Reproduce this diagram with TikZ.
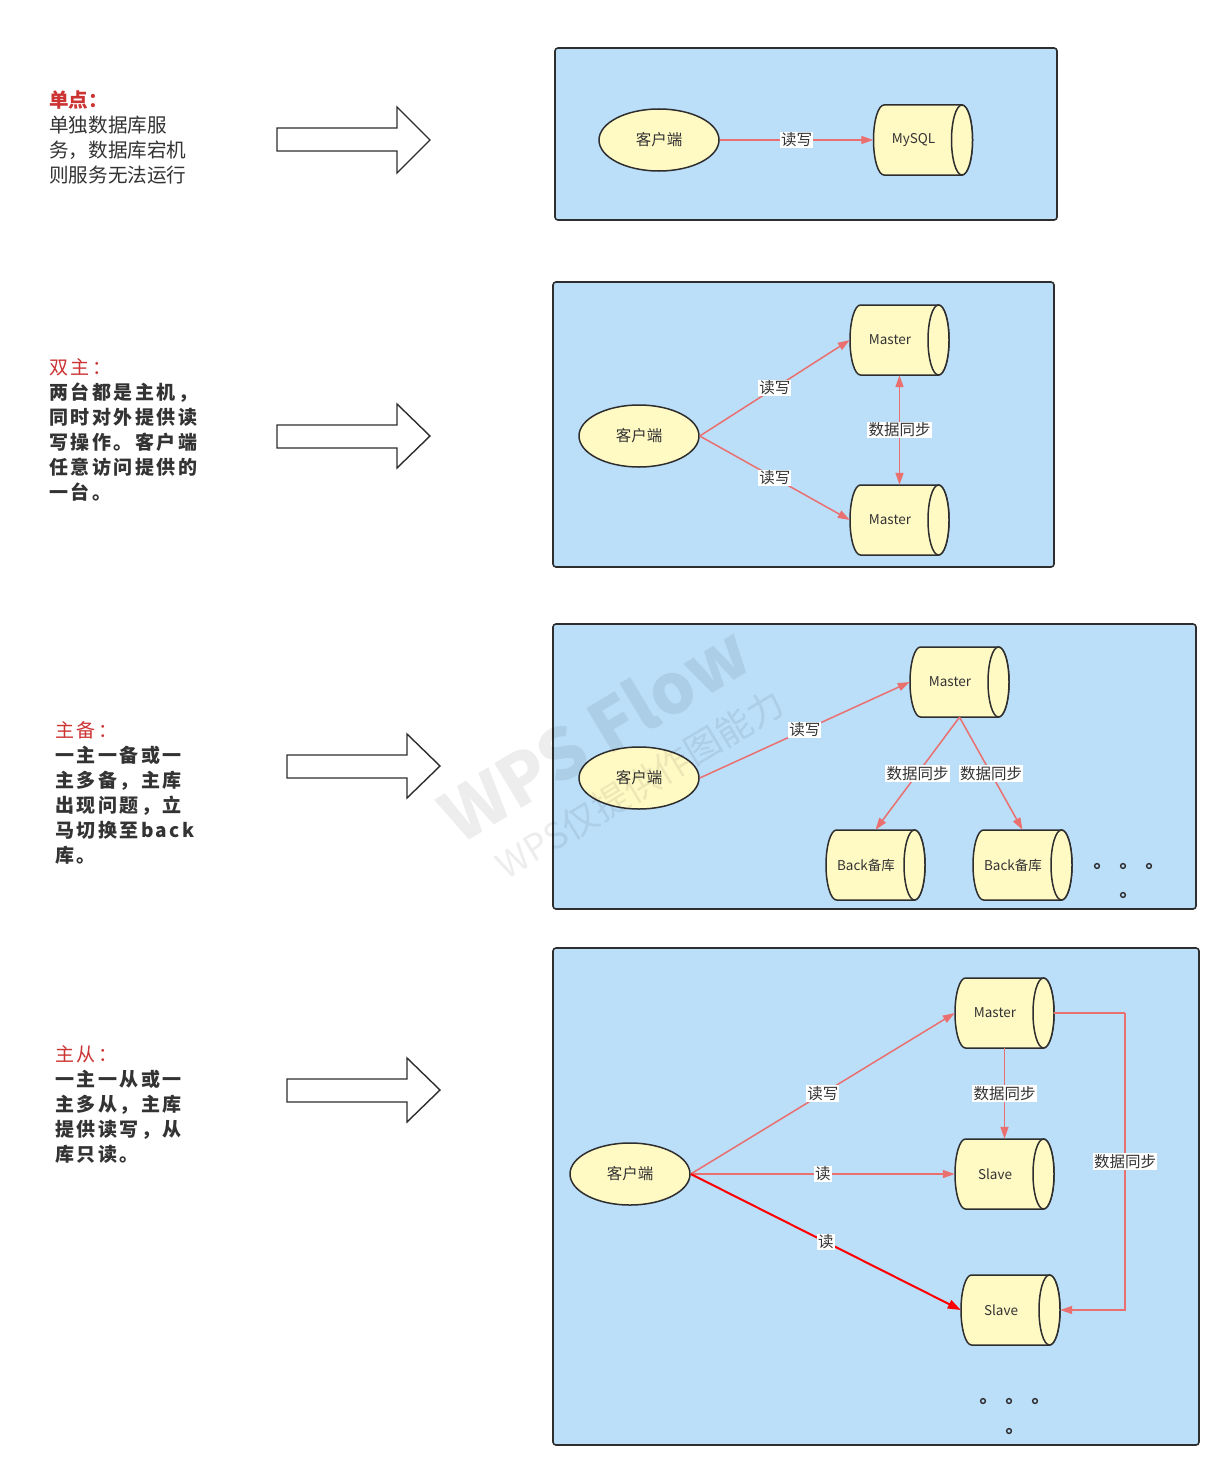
\documentclass[tikz,border=0pt]{standalone}
\usepackage{fontspec}
\setmainfont{Noto Sans CJK SC}
\usetikzlibrary{arrows.meta,shapes.geometric}
\definecolor{panelfill}{HTML}{BBDEF9}
\definecolor{nodefill}{HTML}{FFF9C4}
\definecolor{edgec}{HTML}{EA7070}
\definecolor{titlered}{HTML}{CC3333}
\definecolor{textc}{HTML}{333333}
\definecolor{linec}{HTML}{2E2E2E}
\tikzset{
  panel/.style={draw=linec,line width=1.6pt,fill=panelfill,rounded corners=3pt},
  bigarrow/.style={draw=linec,line width=1.4pt,fill=white},
  client/.style={ellipse,draw=linec,line width=1.5pt,fill=nodefill,minimum width=120pt,minimum height=62pt,inner sep=0pt,font=\fontsize{15.5}{15.5}\selectfont,text=textc},
  cylshape/.style={draw=linec,line width=1.5pt,fill=nodefill},
  cylnode/.style={rectangle,minimum width=99pt,minimum height=70pt,inner sep=0pt,font=\fontsize{13.5}{14}\selectfont,text=textc},
  edge/.style={draw=edgec,line width=1.5pt,-{Triangle[length=12pt,width=8pt]}},
  edgeboth/.style={draw=edgec,line width=1.5pt,{Triangle[length=12pt,width=8pt]}-{Triangle[length=12pt,width=8pt]}},
  edgeplain/.style={draw=edgec,line width=1.5pt},
  edgered/.style={draw=red,line width=2pt,-{Triangle[length=13pt,width=9pt]}},
  lab/.style={fill=white,inner sep=1.2pt,font=\fontsize{15.5}{16}\selectfont,text=textc},
  desc/.style={anchor=north west,align=left,inner sep=0pt,text=textc},
  dot/.style={draw=linec,line width=1.4pt},
  wm/.style={text=black,opacity=0.07,rotate=31}
}
\newcommand{\cyl}[4]{%
  \begin{scope}[shift={(#2,#3)}]
    \path[cylshape] (-39,-35) -- (39,-35)
      arc[start angle=-90,end angle=90,x radius=10.5,y radius=35]
      -- (-39,35)
      arc[start angle=90,end angle=270,x radius=10.5,y radius=35] -- cycle;
    \path[cylshape] (39,0) ellipse[x radius=10.5,y radius=35];
    \node[cylnode] (#1) at (0,0) {#4\hspace*{19pt}};
  \end{scope}}
\begin{document}
\begin{tikzpicture}[x=1pt,y=-1pt]
\useasboundingbox (0,0) rectangle (1230,1477);
\fill[white] (0,0) rectangle (1230,1477);

% ---------- left descriptions ----------
\node[desc,font=\fontsize{19.6}{25}\selectfont] (t1) at (49,91)
  {\textcolor{titlered}{\bfseries 单点：}\\单独数据库服\\务，数据库宕机\\则服务无法运行};
\node[desc,font=\fontsize{19}{25}\selectfont\addfontfeature{LetterSpace=13}] (t2) at (49,358)
  {\textcolor{titlered}{双主：}\\\bfseries 两台都是主机，\\\bfseries 同时对外提供读\\\bfseries 写操作。客户端\\\bfseries 任意访问提供的\\\bfseries 一台。};
\node[desc,font=\fontsize{19}{25}\selectfont\addfontfeature{LetterSpace=13}] (t3) at (55,721)
  {\textcolor{titlered}{主备：}\\\bfseries 一主一备或一\\\bfseries 主多备，主库\\\bfseries 出现问题，立\\\bfseries 马切换至back\\\bfseries 库。};
\node[desc,font=\fontsize{19}{25}\selectfont\addfontfeature{LetterSpace=13}] (t4) at (55,1045)
  {\textcolor{titlered}{主从：}\\\bfseries 一主一从或一\\\bfseries 主多从，主库\\\bfseries 提供读写，从\\\bfseries 库只读。};

% ---------- big arrows ----------
\path[bigarrow] (277,128) -- (397,128) -- (397,107) -- (430,140) -- (397,173) -- (397,151) -- (277,151) -- cycle;
\path[bigarrow] (277,425) -- (397,425) -- (397,404) -- (430,436) -- (397,468) -- (397,448) -- (277,448) -- cycle;
\path[bigarrow] (287,755) -- (407,755) -- (407,734) -- (440,766) -- (407,798) -- (407,778) -- (287,778) -- cycle;
\path[bigarrow] (287,1079) -- (407,1079) -- (407,1058) -- (440,1090) -- (407,1122) -- (407,1102) -- (287,1102) -- cycle;

% ---------- panels ----------
\path[panel] (555,48) rectangle (1057,220);
\path[panel] (553,282) rectangle (1054,567);
\path[panel] (553,624) rectangle (1196,909);
\path[panel] (553,948) rectangle (1199,1445);

% ---------- panel 1 ----------
\node[client] (c1) at (659,140) {客户端};
\cyl{mysql}{923}{140}{MySQL}
\draw[edge] (c1.east) -- node[lab]{读写} (mysql.west);

% ---------- panel 2 ----------
\node[client] (c2) at (639,436) {客户端};
\cyl{m2a}{899.5}{340}{Master}
\cyl{m2b}{899.5}{520}{Master}
\draw[edge] (c2.east) -- node[lab]{读写} (m2a.west);
\draw[edge] (c2.east) -- node[lab]{读写} (m2b.west);
\draw[edgeboth] (m2a.south) -- node[lab]{数据同步} (m2b.north);

% ---------- panel 3 ----------
\node[client] (c3) at (639,778) {客户端};
\cyl{m3}{959.5}{682}{Master}
\cyl{b3a}{875.5}{865}{Back备库}
\cyl{b3b}{1022.5}{865}{Back备库}
\draw[edge] (c3.east) -- node[lab]{读写} (m3.west);
\draw[edge] (m3.south) -- node[lab]{数据同步} (b3a.north);
\draw[edge] (m3.south) -- node[lab]{数据同步} (b3b.north);
\foreach \px/\py in {1097/866,1123/866,1149/866,1123/895}
  \draw[dot] (\px,\py) circle[radius=2.4];

% ---------- panel 4 ----------
\node[client] (c4) at (630,1174) {客户端};
\cyl{m4}{1004.5}{1013}{Master}
\cyl{s4a}{1004.5}{1174}{Slave}
\cyl{s4b}{1010.5}{1310}{Slave}
\coordinate (k4) at (1125,1013);
\draw[edge] (c4.east) -- node[lab]{读写} (m4.west);
\draw[edge] (c4.east) -- node[lab]{读} (s4a.west);
\draw[edgered] (c4.east) -- node[lab]{读} (s4b.west);
\draw[edge] (m4.south) -- node[lab]{数据同步} (s4a.north);
\draw[edgeplain] (m4.east) -- (k4);
\draw[edge] (k4) |- node[lab,pos=0.25]{数据同步} (s4b.east);
\foreach \px/\py in {983/1401,1009/1401,1035/1401,1009/1431}
  \draw[dot] (\px,\py) circle[radius=2.4];

% ---------- watermark ----------
\node[wm,font=\fontsize{70}{70}\selectfont\bfseries] (wm1) at (594,733) {WPS Flow};
\node[wm,font=\fontsize{36}{36}\selectfont] (wm2) at (640,784) {WPS仅提供作图能力};
\end{tikzpicture}
\end{document}
